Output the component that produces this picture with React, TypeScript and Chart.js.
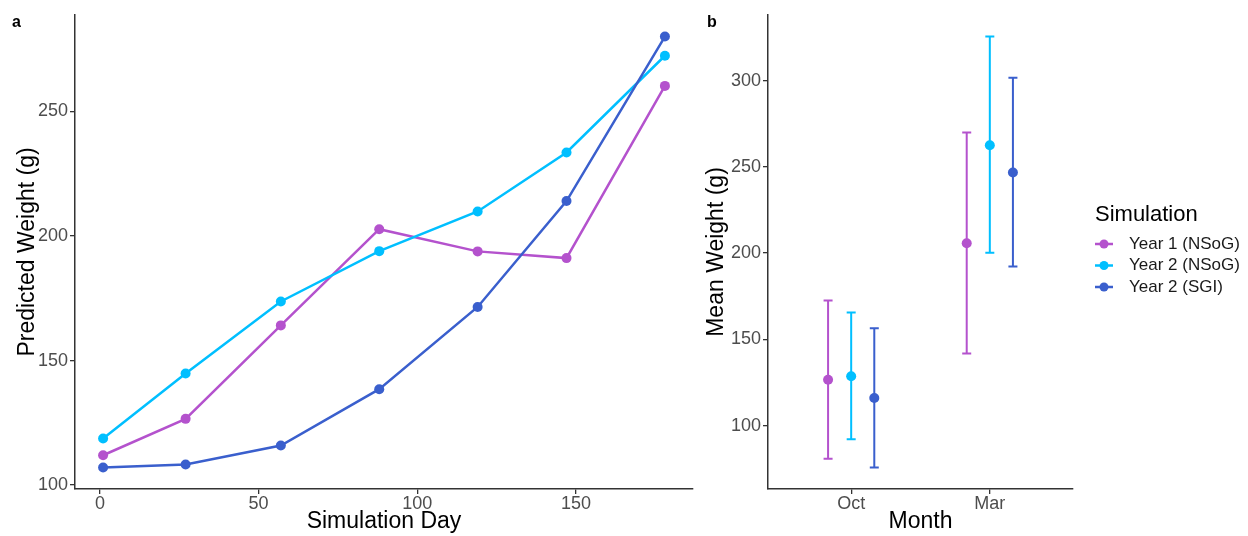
import { useEffect, useRef } from "react";
import { Chart, registerables } from "chart.js";

Chart.register(...registerables);

const FONT = "'Liberation Sans', Arial, Helvetica, sans-serif";
Chart.defaults.font.family = FONT;

// ---- shared series ----
const seriesNames = ["Year 1 (NSoG)", "Year 2 (NSoG)", "Year 2 (SGI)"];
const seriesColors = ["#B452CD", "#00BFFF", "#3A5FCD"];

// ---- panel a: predicted weight over the simulation ----
const simDays = [1, 27, 57, 88, 119, 147, 178];
const year1NSoGWeight = [112.0, 126.6, 164.1, 202.7, 193.8, 191.1, 260.2];
const year2NSoGWeight = [118.7, 144.8, 173.7, 193.9, 209.8, 233.5, 272.3];
const year2SGIWeight = [107.1, 108.3, 115.9, 138.5, 171.5, 214.0, 280.0];
const dayTicks = [0, 50, 100, 150];
const predictedTicks = [100, 150, 200, 250];

// ---- panel b: mean weight by month with error bars ----
const months = ["Oct", "Mar"];
const meanYear1NSoG = [126.5, 205.7];
const lowYear1NSoG = [80.7, 141.7];
const highYear1NSoG = [172.5, 269.9];
const meanYear2NSoG = [128.6, 262.5];
const lowYear2NSoG = [92.1, 200.1];
const highYear2NSoG = [165.5, 325.5];
const meanYear2SGI = [116.0, 246.7];
const lowYear2SGI = [75.7, 192.2];
const highYear2SGI = [156.4, 301.6];
const meanTicks = [100, 150, 200, 250, 300];
const dodgeWidth = 0.5;

const weightSeries = [year1NSoGWeight, year2NSoGWeight, year2SGIWeight];
const meanSeries = [meanYear1NSoG, meanYear2NSoG, meanYear2SGI];
const lowSeries = [lowYear1NSoG, lowYear2NSoG, lowYear2SGI];
const highSeries = [highYear1NSoG, highYear2NSoG, highYear2SGI];

// ggplot-style continuous expansion (5% each side)
function expandRange(values: number[], mult = 0.05): [number, number] {
  const lo = Math.min(...values);
  const hi = Math.max(...values);
  const pad = (hi - lo) * mult;
  return [lo - pad, hi + pad];
}

const AXIS_COLOR = "#333333";
const TICK_TEXT = "#4D4D4D";
const TICK_SIZE = 18;
const TITLE_SIZE = 23;

function axisStyle(tickValues: number[], fitSize: (s: any) => void, pad: number) {
  return {
    type: "linear" as const,
    afterBuildTicks: (s: any) => {
      s.ticks = tickValues.map((v) => ({ value: v }));
    },
    afterFit: fitSize,
    grid: {
      display: true,
      drawOnChartArea: false,
      drawTicks: true,
      tickLength: 5,
      color: AXIS_COLOR,
      lineWidth: 1.3,
    },
    border: { display: true, color: AXIS_COLOR, width: 1.5 },
    ticks: {
      color: TICK_TEXT,
      font: { size: TICK_SIZE },
      padding: pad,
      maxRotation: 0,
      autoSkip: false,
    },
  };
}

function panelLabel(text: string, x: number, y: number) {
  return {
    id: "panelLabel" + text,
    afterDraw(chart: any) {
      const { ctx } = chart;
      ctx.save();
      ctx.font = `bold 16px ${FONT}`;
      ctx.fillStyle = "#000";
      ctx.textAlign = "left";
      ctx.textBaseline = "alphabetic";
      ctx.fillText(text, x, y);
      ctx.restore();
    },
  };
}

const errorBarPlugin = {
  id: "errorBars",
  beforeDatasetsDraw(chart: any) {
    const { ctx } = chart;
    const xs = chart.scales.x;
    const ys = chart.scales.y;
    const cap = 4.5;
    chart.data.datasets.forEach((ds: any) => {
      ctx.save();
      ctx.strokeStyle = ds.borderColor;
      ctx.lineWidth = 2;
      ds.data.forEach((pt: any, j: number) => {
        const px = xs.getPixelForValue(pt.x);
        const yl = ys.getPixelForValue(ds.errorLow[j]);
        const yh = ys.getPixelForValue(ds.errorHigh[j]);
        ctx.beginPath();
        ctx.moveTo(px, yl);
        ctx.lineTo(px, yh);
        ctx.moveTo(px - cap, yl);
        ctx.lineTo(px + cap, yl);
        ctx.moveTo(px - cap, yh);
        ctx.lineTo(px + cap, yh);
        ctx.stroke();
      });
      ctx.restore();
    });
  },
};

const legendPlugin = {
  id: "simLegend",
  afterDraw(chart: any) {
    const { ctx } = chart;
    const left = chart.chartArea.right + 22;
    ctx.save();
    ctx.fillStyle = "#000";
    ctx.font = `22px ${FONT}`;
    ctx.textAlign = "left";
    ctx.textBaseline = "middle";
    ctx.fillText("Simulation", left, 215);
    seriesNames.forEach((name, i) => {
      const cy = 244 + i * 21.5;
      ctx.strokeStyle = seriesColors[i];
      ctx.lineWidth = 2.5;
      ctx.beginPath();
      ctx.moveTo(left, cy);
      ctx.lineTo(left + 18, cy);
      ctx.stroke();
      ctx.fillStyle = seriesColors[i];
      ctx.beginPath();
      ctx.arc(left + 9, cy, 4.5, 0, Math.PI * 2);
      ctx.fill();
      ctx.fillStyle = "#1A1A1A";
      ctx.font = `17px ${FONT}`;
      ctx.fillText(name, left + 34, cy);
    });
    ctx.restore();
  },
};

function GrowthPanel() {
  const ref = useRef<HTMLCanvasElement>(null);
  useEffect(() => {
    if (!ref.current) return;
    const [xMin, xMax] = expandRange(simDays);
    const [yMin, yMax] = expandRange(weightSeries.flat());
    const chart = new Chart(ref.current, {
      type: "line",
      data: {
        datasets: seriesNames.map((name, i) => ({
          label: name,
          data: simDays.map((d, j) => ({ x: d, y: weightSeries[i][j] })),
          borderColor: seriesColors[i],
          backgroundColor: seriesColors[i],
          pointBackgroundColor: seriesColors[i],
          borderWidth: 2.5,
          pointRadius: 5,
          pointHoverRadius: 5,
          pointBorderWidth: 0,
          tension: 0,
          order: seriesNames.length - i,
        })),
      },
      options: {
        animation: false,
        responsive: false,
        events: [],
        layout: { padding: { left: 0, top: 15, right: 7, bottom: 0 } },
        plugins: { legend: { display: false }, tooltip: { enabled: false } },
        scales: {
          x: {
            ...axisStyle(
              dayTicks,
              (s: any) => {
                s.height = 47;
              },
              -1
            ),
            min: xMin,
            max: xMax,
            title: {
              display: true,
              text: "Simulation Day",
              color: "#000",
              font: { size: TITLE_SIZE },
              padding: { top: 0, bottom: 1 },
            },
          },
          y: {
            ...axisStyle(
              predictedTicks,
              (s: any) => {
                s.width = 75;
              },
              2
            ),
            min: yMin,
            max: yMax,
            title: {
              display: true,
              text: "Predicted Weight (g)",
              color: "#000",
              font: { size: TITLE_SIZE },
              padding: { top: 14, bottom: 0 },
            },
          },
        },
      },
      plugins: [panelLabel("a", 12, 27)],
    });
    return () => chart.destroy();
  }, []);
  return (
    <canvas
      ref={ref}
      width={700}
      height={536}
      style={{ position: "absolute", left: 0, top: 0, width: 700, height: 536 }}
    />
  );
}

function MonthPanel() {
  const ref = useRef<HTMLCanvasElement>(null);
  useEffect(() => {
    if (!ref.current) return;
    const [yMin, yMax] = expandRange([...lowSeries.flat(), ...highSeries.flat()]);
    const step = dodgeWidth / seriesNames.length;
    const chart = new Chart(ref.current, {
      type: "scatter",
      data: {
        datasets: seriesNames.map((name, i) => ({
          label: name,
          data: months.map((_, m) => ({
            x: m + 1 + (i - (seriesNames.length - 1) / 2) * step,
            y: meanSeries[i][m],
          })),
          errorLow: lowSeries[i],
          errorHigh: highSeries[i],
          borderColor: seriesColors[i],
          backgroundColor: seriesColors[i],
          pointRadius: 5,
          pointHoverRadius: 5,
          pointBorderWidth: 0,
        })) as any,
      },
      options: {
        animation: false,
        responsive: false,
        events: [],
        layout: { padding: { left: 0, top: 15, right: 175, bottom: 0 } },
        plugins: { legend: { display: false }, tooltip: { enabled: false } },
        scales: {
          x: {
            ...axisStyle(
              [1, 2],
              (s: any) => {
                s.height = 47;
              },
              -1
            ),
            min: 0.4,
            max: months.length + 0.6,
            ticks: {
              color: TICK_TEXT,
              font: { size: TICK_SIZE },
              padding: -1,
              maxRotation: 0,
              autoSkip: false,
              callback: (v: any) => months[Math.round(Number(v)) - 1] ?? "",
            },
            title: {
              display: true,
              text: "Month",
              color: "#000",
              font: { size: TITLE_SIZE },
              padding: { top: 0, bottom: 1 },
            },
          },
          y: {
            ...axisStyle(
              meanTicks,
              (s: any) => {
                s.width = 68;
              },
              2
            ),
            min: yMin,
            max: yMax,
            title: {
              display: true,
              text: "Mean Weight (g)",
              color: "#000",
              font: { size: TITLE_SIZE },
              padding: { top: 3, bottom: 0 },
            },
          },
        },
      },
      plugins: [errorBarPlugin, legendPlugin, panelLabel("b", 7, 27)],
    });
    return () => chart.destroy();
  }, []);
  return (
    <canvas
      ref={ref}
      width={548}
      height={536}
      style={{ position: "absolute", left: 700, top: 0, width: 548, height: 536 }}
    />
  );
}

export default function App() {
  return (
    <div
      style={{
        position: "fixed",
        left: 0,
        top: 0,
        width: 1248,
        height: 536,
        background: "#fff",
        overflow: "hidden",
      }}
    >
      <GrowthPanel />
      <MonthPanel />
    </div>
  );
}
